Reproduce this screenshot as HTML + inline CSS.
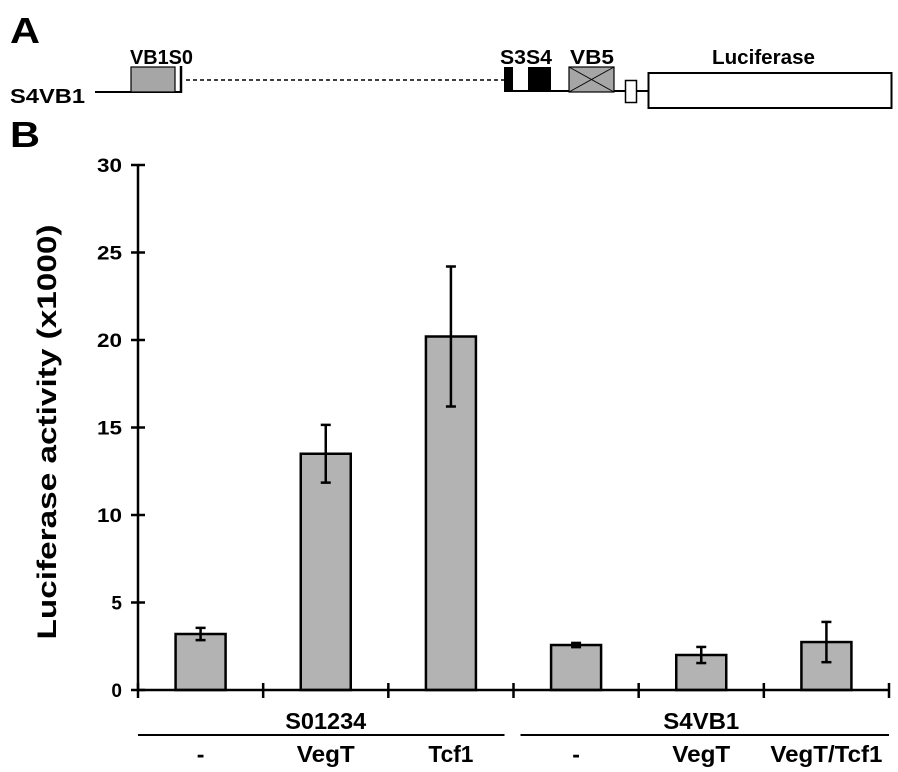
<!DOCTYPE html>
<html><head><meta charset="utf-8"><style>
html,body{margin:0;padding:0;background:#fff;}
svg{display:block;font-family:"Liberation Sans",Arial,sans-serif;font-weight:bold;}
</style></head><body>
<svg id="fig" width="898" height="772" viewBox="0 0 898 772">
<g>
<text x="10" y="43" font-size="36" textLength="30" lengthAdjust="spacingAndGlyphs">A</text>
<text x="10" y="103" font-size="20" textLength="75" lengthAdjust="spacingAndGlyphs">S4VB1</text>
<line x1="95" y1="92" x2="181" y2="92" stroke="#000" stroke-width="2"/>
<rect x="131" y="67" width="44" height="25" fill="#a6a6a6" stroke="#000" stroke-width="1.2"/>
<line x1="181" y1="66" x2="181" y2="93" stroke="#000" stroke-width="2.5"/>
<line x1="186" y1="80" x2="504" y2="80" stroke="#000" stroke-width="1.5" stroke-dasharray="4,3"/>
<line x1="504" y1="91" x2="648" y2="91" stroke="#000" stroke-width="2"/>
<rect x="504" y="67" width="9" height="25" fill="#000"/>
<rect x="528" y="67" width="23" height="25" fill="#000"/>
<g>
<rect x="569" y="67" width="45" height="25" fill="#a6a6a6" stroke="#000" stroke-width="1.2"/>
<line x1="569" y1="67" x2="614" y2="92" stroke="#000" stroke-width="1"/>
<line x1="614" y1="67" x2="569" y2="92" stroke="#000" stroke-width="1"/>
</g>
<rect x="625.5" y="80.5" width="11" height="22" fill="#fff" stroke="#000" stroke-width="1.5"/>
<rect x="648.5" y="73" width="243" height="35" fill="#fff" stroke="#000" stroke-width="2"/>
<text x="130" y="64" font-size="20" textLength="63" lengthAdjust="spacingAndGlyphs">VB1S0</text>
<text x="500" y="64" font-size="20" textLength="52" lengthAdjust="spacingAndGlyphs">S3S4</text>
<text x="570" y="64" font-size="20" textLength="44" lengthAdjust="spacingAndGlyphs">VB5</text>
<text x="712" y="64" font-size="20" textLength="103" lengthAdjust="spacingAndGlyphs">Luciferase</text>
</g>
<text x="10" y="147" font-size="36" textLength="30" lengthAdjust="spacingAndGlyphs">B</text>
<text transform="translate(56,432) rotate(-90)" text-anchor="middle" font-size="27" textLength="415" lengthAdjust="spacingAndGlyphs">Luciferase activity (x1000)</text>
<g id="chart"></g>
</svg>
<script>
const categories = ["-", "VegT", "Tcf1", "-", "VegT", "VegT/Tcf1"];
const groups = ["S01234", "S4VB1"];
const values = [3.2, 13.5, 20.2, 2.57, 2.0, 2.74];
const errors = [0.35, 1.65, 4.0, 0.12, 0.46, 1.15];
const yTicks = [0, 5, 10, 15, 20, 25, 30];

const NS = "http://www.w3.org/2000/svg";
const g = document.getElementById("chart");
const x0 = 138, x1 = 889, y0 = 690, yTop = 165, yMax = 30;
const band = (x1 - x0) / categories.length;
const xC = i => x0 + band * (i + 0.5);
const yS = v => y0 - (v / yMax) * (y0 - yTop);
function mk(tag, attrs, parent) {
  const e = document.createElementNS(NS, tag);
  for (const k in attrs) e.setAttribute(k, attrs[k]);
  (parent || g).appendChild(e);
  return e;
}
values.forEach((v, i) => {
  const r = mk("rect", {x: xC(i) - 25, y: yS(v), width: 50, height: y0 - yS(v), fill: "#b3b3b3", stroke: "#000", "stroke-width": 2.5});
  
  
  const eg = mk("g", {stroke: "#000", "stroke-width": 2.5});
  
  
  const t = yS(v + errors[i]), b = yS(v - errors[i]), c = xC(i);
  mk("line", {x1: c, y1: t, x2: c, y2: b}, eg);
  mk("line", {x1: c - 5, y1: t, x2: c + 5, y2: t}, eg);
  mk("line", {x1: c - 5, y1: b, x2: c + 5, y2: b}, eg);
});
const ya = mk("line", {x1: x0, y1: yTop, x2: x0, y2: y0, stroke: "#000", "stroke-width": 2.5});


const xa = mk("line", {x1: x0, y1: y0, x2: x1, y2: y0, stroke: "#000", "stroke-width": 2.5});


yTicks.forEach(v => {
  mk("line", {x1: x0 - 7, y1: yS(v), x2: x0 + 7, y2: yS(v), stroke: "#000", "stroke-width": 2.5});
  const t = mk("text", {x: x0 - 16, y: yS(v) + 7, "text-anchor": "end", "font-size": 19});
  if (v >= 10) { t.setAttribute("textLength", 25); t.setAttribute("lengthAdjust", "spacingAndGlyphs"); }
  t.textContent = v;
  
  
});
for (let i = 0; i <= categories.length; i++) {
  const x = x0 + band * i;
  mk("line", {x1: x, y1: y0 - 7, x2: x, y2: y0 + 8, stroke: "#000", "stroke-width": 2.5});
}
const catW = {"-": 0, "VegT": 58, "Tcf1": 45, "VegT/Tcf1": 112};
categories.forEach((c, i) => {
  const t = mk("text", {x: xC(i), y: 762, "text-anchor": "middle", "font-size": 23});
  if (catW[c]) { t.setAttribute("textLength", catW[c]); t.setAttribute("lengthAdjust", "spacingAndGlyphs"); }
  t.textContent = c;
  
  
});
groups.forEach((gname, k) => {
  const a = x0 + band * 3 * k + (k ? 7 : 0), b = x0 + band * 3 * (k + 1) - (k ? 0 : 9);
  const l = mk("line", {x1: a, y1: 735, x2: b, y2: 735, stroke: "#000", "stroke-width": 2});
  
  
  const t = mk("text", {x: (x0 + band * 3 * k + x0 + band * 3 * (k + 1)) / 2, y: 729, "text-anchor": "middle", "font-size": 23, textLength: k ? 76 : 81, lengthAdjust: "spacingAndGlyphs"});
  t.textContent = gname;
  
  
});
</script>
</body></html>
